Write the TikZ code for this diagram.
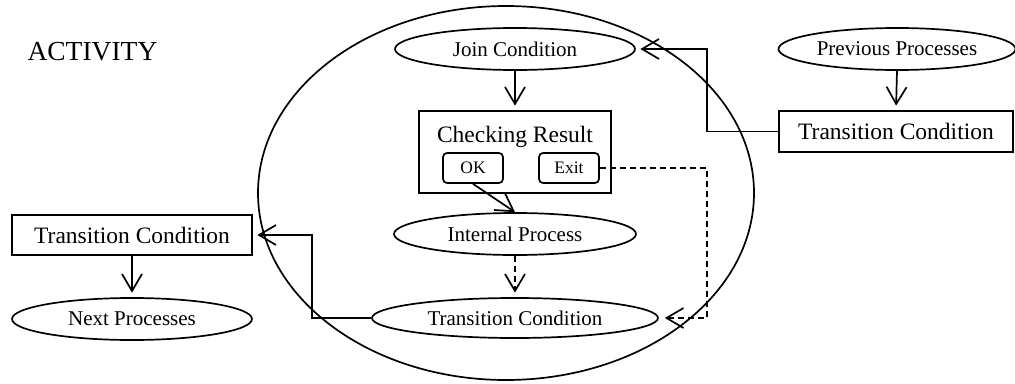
\documentclass[tikz,border=0pt]{standalone}
\usepackage{fontspec}
\setmainfont{Liberation Serif}
\usetikzlibrary{arrows.meta,shapes.geometric,calc}
\tikzset{
  lw/.style={line width=1.7pt},
  proc/.style={ellipse, draw, lw, inner sep=0pt, font=\fontsize{21}{24}\selectfont},
  condbox/.style={rectangle, draw, lw, inner sep=0pt, font=\fontsize{23.5}{27}\selectfont},
  btn/.style={rectangle, draw, lw, rounded corners=4pt, inner sep=0pt,
    minimum width=60pt, minimum height=30pt, font=\fontsize{17.5}{20}\selectfont},
  flow/.style={lw, -{Straight Barb[length=17pt,width=20pt,line width=1.7pt]}, shorten >=4.5pt},
  altflow/.style={flow, dash pattern=on 6pt off 4pt},
}
\begin{document}
\begin{tikzpicture}[x=1pt,y=-1pt]
\useasboundingbox (0,0) rectangle (1015,383);

% activity boundary
\node[ellipse, draw, lw, minimum width=496pt, minimum height=374pt, inner sep=0pt] (act) at (506,193) {};
\node[anchor=base west, font=\fontsize{27.5}{30}\selectfont] (title) at (24,60) {ACTIVITY};

% inside the activity
\node[proc, minimum width=240pt, minimum height=42pt] (join) at (515,49) {Join Condition};
\node[rectangle, draw, lw, minimum width=192pt, minimum height=82pt, inner sep=0pt] (check) at (515,152) {};
\node[anchor=base, font=\fontsize{23.5}{27}\selectfont] (checktxt) at (515,142) {Checking Result};
\node[btn] (ok) at (473,168) {OK};
\node[btn] (exit) at (569,168) {Exit};
\node[proc, minimum width=242pt, minimum height=42pt] (internal) at (515,234) {Internal Process};
\node[proc, minimum width=286pt, minimum height=40pt] (tcin) at (515,318) {Transition Condition};

% preceding side
\node[proc, minimum width=237pt, minimum height=42pt] (prev) at (897,49) {Previous Processes};
\node[condbox, minimum width=234pt, minimum height=41pt] (tcright) at (896,131.5) {Transition Condition};

% following side
\node[condbox, minimum width=240pt, minimum height=40pt] (tcleft) at (132,235) {Transition Condition};
\node[proc, minimum width=240pt, minimum height=42pt] (next) at (132,319) {Next Processes};

% routing columns
\coordinate (rcol) at (707,0);
\coordinate (lcol) at (312,0);

% connectors
\draw[flow] (join.south) -- (check.north);
\draw[flow, shorten >=0pt] (ok.south) -- (internal.north);
\draw[altflow] (internal.south) -- (tcin.north);
\draw[altflow, shorten >=6pt] (exit.east) -| (rcol |- tcin.east) -- (tcin.east);
\draw[flow] (prev.south) -- (tcright.north);
\draw[flow] (tcright.west) -| (rcol |- join.east) -- (join.east);
\draw[flow] (tcin.west) -| (lcol |- tcleft.east) -- (tcleft.east);
\draw[flow] (tcleft.south) -- (next.north);
\end{tikzpicture}
\end{document}
